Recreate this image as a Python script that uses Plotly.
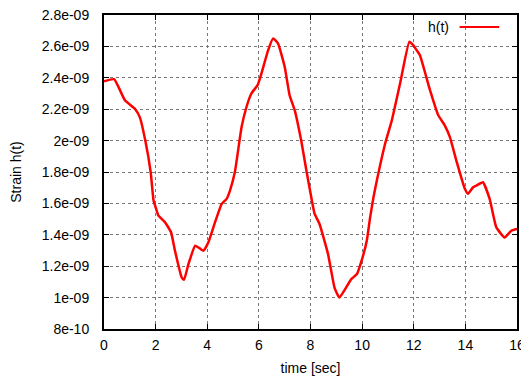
import plotly.graph_objects as go

# time [sec]
t = [0.0, 0.39, 0.81, 1.21, 1.39, 1.6, 1.81, 1.92, 2.02, 2.11, 2.37, 2.6, 2.75, 3.01, 3.1,
     3.27, 3.53, 3.66, 3.85, 4.04, 4.3, 4.56, 4.75, 4.88, 5.07, 5.33, 5.52, 5.71, 5.95,
     6.1, 6.36, 6.55, 6.74, 7.0, 7.19, 7.39, 7.64, 7.84, 8.03, 8.16, 8.35, 8.68, 8.93,
     9.12, 9.58, 9.8, 9.98, 10.18, 10.31, 10.44, 10.57, 10.89, 11.15, 11.47, 11.83,
     11.98, 12.11, 12.24, 12.63, 12.95, 13.2, 13.4, 13.65, 13.98, 14.1, 14.3, 14.43,
     14.68, 14.94, 15.2, 15.52, 15.78, 16.0]
# strain (units of 1e-9)
h = [2.378, 2.391, 2.257, 2.2, 2.148, 2.0, 1.797, 1.618, 1.565, 1.522, 1.479, 1.415, 1.298,
     1.128, 1.113, 1.213, 1.33, 1.319, 1.298, 1.351, 1.479, 1.597, 1.629, 1.682, 1.8,
     2.086, 2.214, 2.3, 2.353, 2.428, 2.576, 2.651, 2.619, 2.47, 2.289, 2.193, 2.0, 1.81,
     1.639, 1.533, 1.469, 1.277, 1.064, 1.0, 1.118, 1.15, 1.235, 1.362, 1.511, 1.639,
     1.746, 1.98, 2.129, 2.364, 2.63, 2.608, 2.576, 2.544, 2.321, 2.161, 2.097, 2.022,
     1.873, 1.693, 1.661, 1.703, 1.714, 1.735, 1.629, 1.447, 1.383, 1.426, 1.437]
h = [v * 1e-9 for v in h]

x_ticks = [0, 2, 4, 6, 8, 10, 12, 14, 16]
y_ticks = [8e-10, 1e-9, 1.2e-9, 1.4e-9, 1.6e-9, 1.8e-9, 2e-9, 2.2e-9, 2.4e-9, 2.6e-9, 2.8e-9]
y_labels = ["8e-10", "1e-09", "1.2e-09", "1.4e-09", "1.6e-09", "1.8e-09", "2e-09",
            "2.2e-09", "2.4e-09", "2.6e-09", "2.8e-09"]

font = dict(family="Liberation Sans, Arial, sans-serif", size=14, color="black")

fig = go.Figure()
fig.add_trace(go.Scatter(x=t, y=h, mode="lines", name="h(t)",
                         line=dict(color="#ff0000", width=2.5, shape="spline", smoothing=0.4),
                         showlegend=False))

axis_common = dict(showline=True, linecolor="black", linewidth=2, mirror="ticks",
                   ticks="inside", ticklen=5, tickcolor="black", tickwidth=1,
                   showgrid=True, gridcolor="#777777", gridwidth=1, griddash="dot",
                   zeroline=False, tickfont=font, automargin=False,
                   ticklabeloverflow="allow")

fig.update_xaxes(range=[0, 16], tickvals=x_ticks, ticktext=[str(v) for v in x_ticks],
                 ticklabelstandoff=2,
                 title=dict(text="time [sec]", font=font, standoff=15), **axis_common)
fig.update_yaxes(range=[8e-10, 2.8e-9], tickvals=y_ticks, ticktext=y_labels,
                 ticklabelstandoff=10,
                 title=dict(text="Strain h(t)", font=font, standoff=20), **axis_common)

# gnuplot-style key: label then line sample
fig.add_annotation(x=0.84, y=0.962, xref="paper", yref="paper", text="h(t)",
                   showarrow=False, xanchor="right", yanchor="middle", font=font)
fig.add_shape(type="line", xref="paper", yref="paper", x0=0.861, x1=0.957,
              y0=0.962, y1=0.962, line=dict(color="#ff0000", width=2))

# page body has an 8px margin; size the figure to fit the 529x376 window
fig.update_layout(width=521, height=368, margin=dict(l=96, r=12, t=7, b=47),
                  plot_bgcolor="white", paper_bgcolor="white", font=font)

fig.write_html("out.html")
